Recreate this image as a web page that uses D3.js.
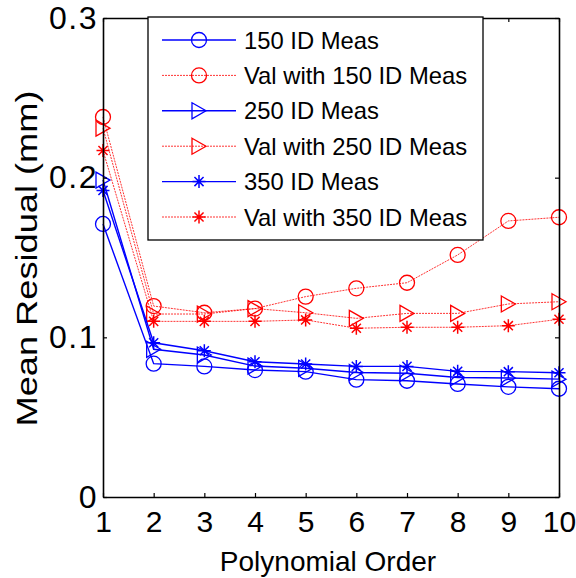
<!DOCTYPE html>
<html>
<head>
<meta charset="utf-8">
<script src="https://cdn.jsdelivr.net/npm/d3@7"></script>
<style>
  html, body { margin: 0; padding: 0; background: #fff; }
  svg { display: block; font-family: "Liberation Sans", Arial, sans-serif; }
</style>
</head>
<body>
<svg id="chart" width="576" height="578"></svg>
<script>
// Polynomial order on the x axis
const orders = [1, 2, 3, 4, 5, 6, 7, 8, 9, 10];

// Mean residual (mm) for each fit
const meas150    = [0.171, 0.0835, 0.0818, 0.0795, 0.0785, 0.0735, 0.0728, 0.0708, 0.0690, 0.0678];
const valMeas150 = [0.238, 0.1196, 0.1154, 0.1180, 0.1255, 0.1307, 0.1342, 0.1516, 0.1729, 0.1752];
const meas250    = [0.1985, 0.0925, 0.0889, 0.0820, 0.0806, 0.0780, 0.0775, 0.0748, 0.0745, 0.0738];
const valMeas250 = [0.231, 0.1146, 0.1146, 0.1180, 0.1154, 0.1119, 0.1150, 0.1150, 0.1209, 0.1223];
const meas350    = [0.192, 0.0966, 0.0916, 0.0847, 0.0833, 0.0818, 0.0818, 0.0787, 0.0785, 0.0778];
const valMeas350 = [0.217, 0.1100, 0.1100, 0.1100, 0.1109, 0.1057, 0.1063, 0.1063, 0.1073, 0.1113];

const seriesNames = ["150 ID Meas", "Val with 150 ID Meas", "250 ID Meas",
                     "Val with 250 ID Meas", "350 ID Meas", "Val with 350 ID Meas"];
const seriesValues = [meas150, valMeas150, meas250, valMeas250, meas350, valMeas350];
const seriesMarkers = ["circle", "circle", "triangle", "triangle", "star", "star"];
const seriesColors = ["#0000ff", "#ff0000", "#0000ff", "#ff0000", "#0000ff", "#ff0000"];

const xTicks = [1, 2, 3, 4, 5, 6, 7, 8, 9, 10];
const yTicks = [0, 0.1, 0.2, 0.3];
const yTickLabels = ["0", "0.1", "0.2", "0.3"];

const svg = d3.select("#chart");
const plot = { left: 103, right: 559, top: 18, bottom: 497 };

const x = d3.scaleLinear().domain([1, 10]).range([plot.left, plot.right]);
const y = d3.scaleLinear().domain([0, 0.3]).range([plot.bottom, plot.top]);

// Marker shapes
function drawMarker(g, type, color) {
  if (type === "circle") {
    g.append("circle").attr("r", 7.5).attr("fill", "none")
      .attr("stroke", color).attr("stroke-width", 1.3);
  } else if (type === "triangle") {
    g.append("path").attr("d", "M-7,-8 L7,0 L-7,8 Z").attr("fill", "none")
      .attr("stroke", color).attr("stroke-width", 1.3);
  } else {
    const s = 6.5;
    g.append("path")
      .attr("d", `M${-s},0 L${s},0 M0,${-s} L0,${s} M${-s*0.7},${-s*0.7} L${s*0.7},${s*0.7} M${-s*0.7},${s*0.7} L${s*0.7},${-s*0.7}`)
      .attr("fill", "none").attr("stroke", color).attr("stroke-width", 1.5);
  }
}

const line = d3.line().x((d, i) => x(orders[i])).y(d => y(d));

// Data lines and markers
seriesValues.forEach((vals, k) => {
  const isVal = k % 2 === 1;
  svg.append("path")
    .datum(vals)
    .attr("d", line)
    .attr("fill", "none")
    .attr("stroke", seriesColors[k])
    .attr("stroke-width", isVal ? 1 : 1.4)
    .attr("stroke-dasharray", isVal ? "2,1" : null)
    .attr("stroke-opacity", isVal ? 0.8 : 1);
  vals.forEach((v, i) => {
    const g = svg.append("g").attr("transform", `translate(${x(orders[i])},${y(v)})`);
    drawMarker(g, seriesMarkers[k], seriesColors[k]);
  });
});

// Axes box with inward ticks on all four sides
const axisColor = "#000";
const bottomAxis = d3.axisBottom(x).tickValues(xTicks).tickSizeInner(-4).tickSizeOuter(0).tickPadding(14).tickFormat(d3.format("d"));
const topAxis = d3.axisTop(x).tickValues(xTicks).tickSizeInner(-4).tickSizeOuter(0).tickFormat("");
const leftAxis = d3.axisLeft(y).tickValues(yTicks).tickSizeInner(-4).tickSizeOuter(0).tickPadding(5)
  .tickFormat((d, i) => yTickLabels[i]);
const rightAxis = d3.axisRight(y).tickValues(yTicks).tickSizeInner(-4).tickSizeOuter(0).tickFormat("");

function styleAxis(g, size) {
  g.select(".domain").attr("stroke", axisColor).attr("stroke-width", 1.6);
  g.selectAll(".tick line").attr("stroke", axisColor).attr("stroke-width", 1.2);
  g.selectAll(".tick text").attr("fill", "#000").style("font-size", size + "px")
    .style("font-family", '"Liberation Sans", Arial, sans-serif');
}

svg.append("g").attr("transform", `translate(0,${plot.bottom})`).call(bottomAxis).call(styleAxis, 30);
svg.append("g").attr("transform", `translate(0,${plot.top})`).call(topAxis).call(styleAxis, 30);
const yAxisG = svg.append("g").attr("transform", `translate(${plot.left},0)`).call(leftAxis).call(styleAxis, 32);
yAxisG.selectAll(".tick text").style("letter-spacing", "1.5px");
svg.append("g").attr("transform", `translate(${plot.right},0)`).call(rightAxis).call(styleAxis, 30);

// Axis titles
svg.append("text")
  .attr("x", (plot.left + plot.right) / 2 - 3)
  .attr("y", 571)
  .attr("text-anchor", "middle")
  .style("font-size", "28px")
  .attr("fill", "#000")
  .text("Polynomial Order");

svg.append("text")
  .attr("transform", `translate(37,${(plot.top + plot.bottom) / 2 + 1}) rotate(-90)`)
  .attr("text-anchor", "middle")
  .attr("textLength", 336)
  .attr("lengthAdjust", "spacingAndGlyphs")
  .style("font-size", "30px")
  .attr("fill", "#000")
  .text("Mean Residual (mm)");

// Legend
const legend = svg.append("g");
legend.append("rect")
  .attr("x", 148).attr("y", 17).attr("width", 335).attr("height", 223)
  .attr("fill", "#fff").attr("stroke", "#000").attr("stroke-width", 1.3);

seriesNames.forEach((name, k) => {
  const ly = 40 + k * 35.4;
  const isVal = k % 2 === 1;
  legend.append("line")
    .attr("x1", 162).attr("x2", 236).attr("y1", ly).attr("y2", ly)
    .attr("stroke", seriesColors[k])
    .attr("stroke-width", isVal ? 1 : 1.4)
    .attr("stroke-dasharray", isVal ? "2,1" : null)
    .attr("stroke-opacity", isVal ? 0.8 : 1);
  const g = legend.append("g").attr("transform", `translate(199,${ly})`);
  drawMarker(g, seriesMarkers[k], seriesColors[k]);
  legend.append("text")
    .attr("x", 244).attr("y", ly + 8.5)
    .style("font-size", "23.8px")
    .attr("fill", "#000")
    .text(name);
});
</script>
</body>
</html>
